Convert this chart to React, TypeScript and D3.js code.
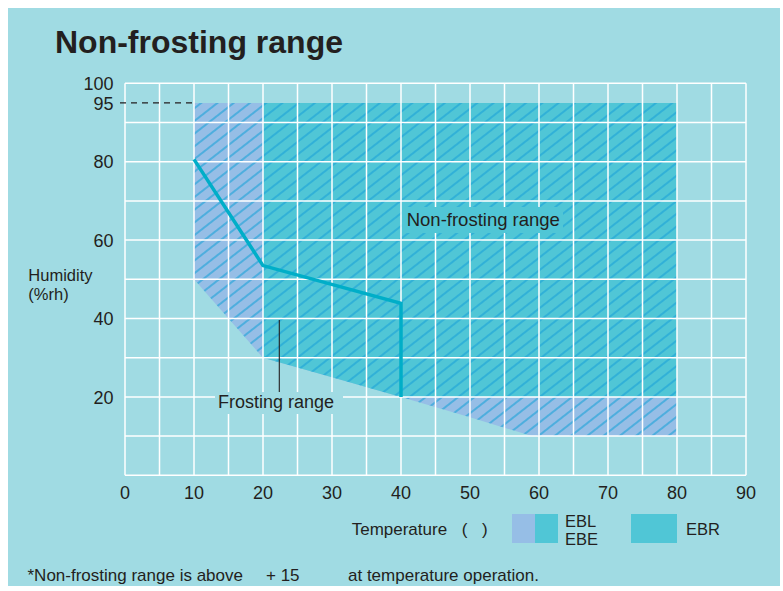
import { useEffect, useRef } from 'react'
import * as d3 from 'd3'

// temperature / humidity readings taken off the original chart
const xTicks = [0, 10, 20, 30, 40, 50, 60, 70, 80, 90]
const yTicks = [20, 40, 60, 80, 95, 100]
const xGrid = d3.range(0, 91, 5)
const yGrid = d3.range(0, 101, 10)

// EBL / EBE operating range (outline, clockwise)
const eblTemp = [10, 80, 80, 59, 50, 40, 30, 20, 15, 10]
const eblHum = [95, 95, 10, 10, 14.8, 20, 25, 30, 40, 50]

// EBR operating range
const ebrTemp = [20, 80, 80, 40, 30, 20]
const ebrHum = [95, 95, 20, 20, 25, 30]

// frosting limit line
const limitTemp = [10, 20, 40, 40]
const limitHum = [80.6, 53.5, 43.9, 20]

const BG = '#a0dbe3'
const EBL = '#96bee6'
const EBR = '#50c6d6'
const TXT = '#231f20'
const FONT = '"Liberation Sans", Arial, Helvetica, sans-serif'

export default function App() {
  const ref = useRef<SVGSVGElement>(null)

  useEffect(() => {
    const width = 783
    const height = 591
    const x = d3.scaleLinear().domain([0, 90]).range([125, 746])
    const y = d3.scaleLinear().domain([0, 100]).range([475.3, 83.3])

    const svg = d3.select(ref.current)
      .attr('width', width)
      .attr('height', height)
      .attr('viewBox', [0, 0, width, height])
    svg.selectAll('*').remove()

    // diagonal hatching
    svg.append('defs')
      .append('pattern')
      .attr('id', 'hatch')
      .attr('patternUnits', 'userSpaceOnUse')
      .attr('width', 10)
      .attr('height', 10)
      .attr('patternTransform', 'rotate(-38)')
      .append('line')
      .attr('x1', -1).attr('x2', 11)
      .attr('y1', 5).attr('y2', 5)
      .attr('stroke', '#1ba2d8')
      .attr('stroke-width', 1.2)

    svg.append('rect')
      .attr('width', width).attr('height', height)
      .attr('fill', '#fff')
    svg.append('rect')
      .attr('x', 8).attr('y', 8)
      .attr('width', 772).attr('height', 578)
      .attr('fill', BG)

    const poly = (ts: number[], hs: number[]) =>
      d3.line<number>().x((d) => x(d)).y((_, i) => y(hs[i]))(ts) + 'Z'

    svg.append('path').attr('d', poly(eblTemp, eblHum)).attr('fill', EBL)
    svg.append('path').attr('d', poly(ebrTemp, ebrHum)).attr('fill', EBR)
    svg.append('path').attr('d', poly(eblTemp, eblHum)).attr('fill', 'url(#hatch)')

    // grid
    const grid = svg.append('g')
      .attr('stroke', '#fff')
      .attr('stroke-width', 1.5)
    grid.selectAll('.vx')
      .data(xGrid)
      .join('line')
      .attr('x1', (d) => x(d)).attr('x2', (d) => x(d))
      .attr('y1', y(100)).attr('y2', y(0))
    grid.selectAll('.hy')
      .data(yGrid)
      .join('line')
      .attr('x1', x(0)).attr('x2', x(90))
      .attr('y1', (d) => y(d)).attr('y2', (d) => y(d))

    // label boxes hide grid + hatch behind the annotations
    svg.append('rect')
      .attr('x', 402).attr('y', 207).attr('width', 161).attr('height', 26)
      .attr('fill', EBR)
    svg.append('rect')
      .attr('x', 215).attr('y', 392).attr('width', 128).attr('height', 22)
      .attr('fill', BG)

    // frosting limit line
    svg.append('path')
      .attr('d', d3.line<number>().x((d) => x(d)).y((_, i) => y(limitHum[i]))(limitTemp))
      .attr('fill', 'none')
      .attr('stroke', '#00aec8')
      .attr('stroke-width', 3.5)

    // 95% dashed guide
    svg.append('line')
      .attr('x1', 120).attr('x2', x(10))
      .attr('y1', y(95)).attr('y2', y(95))
      .attr('stroke', TXT)
      .attr('stroke-width', 1.1)
      .attr('stroke-dasharray', '6,5')

    // leader for "Frosting range"
    svg.append('line')
      .attr('x1', 279.3).attr('x2', 279.3)
      .attr('y1', 320).attr('y2', 392)
      .attr('stroke', TXT)
      .attr('stroke-width', 1.1)

    const text = svg.append('g')
      .attr('fill', TXT)
      .attr('font-family', FONT)

    // tick labels
    text.selectAll('.xt')
      .data(xTicks)
      .join('text')
      .attr('x', (d) => x(d))
      .attr('y', 499)
      .attr('text-anchor', 'middle')
      .attr('font-size', 18)
      .text((d) => d)
    text.selectAll('.yt')
      .data(yTicks)
      .join('text')
      .attr('x', 113.5)
      .attr('y', (d) => y(d) + 6.6)
      .attr('text-anchor', 'end')
      .attr('font-size', 18)
      .text((d) => d)

    text.append('text')
      .attr('x', 55).attr('y', 53.3)
      .attr('font-size', 32)
      .attr('font-weight', 'bold')
      .text('Non-frosting range')

    text.append('text')
      .attr('x', 28.3).attr('y', 280.7)
      .attr('font-size', 16.5)
      .text('Humidity')
    text.append('text')
      .attr('x', 28.3).attr('y', 300)
      .attr('font-size', 16.5)
      .text('(%rh)')

    text.append('text')
      .attr('x', 406.7).attr('y', 226)
      .attr('font-size', 18.5)
      .text('Non-frosting range')
    text.append('text')
      .attr('x', 218).attr('y', 408.3)
      .attr('font-size', 18)
      .text('Frosting range')

    // x axis title (degree glyph missing in the source, left as a gap)
    text.append('text')
      .attr('x', 351.7).attr('y', 535)
      .attr('font-size', 17)
      .text('Temperature')
    text.append('text')
      .attr('x', 461.7).attr('y', 535)
      .attr('font-size', 17)
      .text('(')
    text.append('text')
      .attr('x', 482).attr('y', 535)
      .attr('font-size', 17)
      .text(')')

    // legend
    svg.append('rect').attr('x', 512).attr('y', 514).attr('width', 23).attr('height', 29).attr('fill', EBL)
    svg.append('rect').attr('x', 535).attr('y', 514).attr('width', 23).attr('height', 29).attr('fill', EBR)
    svg.append('rect').attr('x', 631).attr('y', 514).attr('width', 46).attr('height', 29).attr('fill', EBR)
    text.append('text').attr('x', 565).attr('y', 527).attr('font-size', 16.5).text('EBL')
    text.append('text').attr('x', 565).attr('y', 545).attr('font-size', 16.5).text('EBE')
    text.append('text').attr('x', 686).attr('y', 534.5).attr('font-size', 16.5).text('EBR')

    // footnote
    text.append('text')
      .attr('x', 27.5).attr('y', 581)
      .attr('font-size', 17)
      .text('*Non-frosting range is above')
    text.append('text')
      .attr('x', 266).attr('y', 581)
      .attr('font-size', 17)
      .text('+ 15')
    text.append('text')
      .attr('x', 348).attr('y', 581)
      .attr('font-size', 17)
      .text('at temperature operation.')
  }, [])

  return <svg ref={ref} style={{ position: 'absolute', left: 0, top: 0, display: 'block' }} />
}
